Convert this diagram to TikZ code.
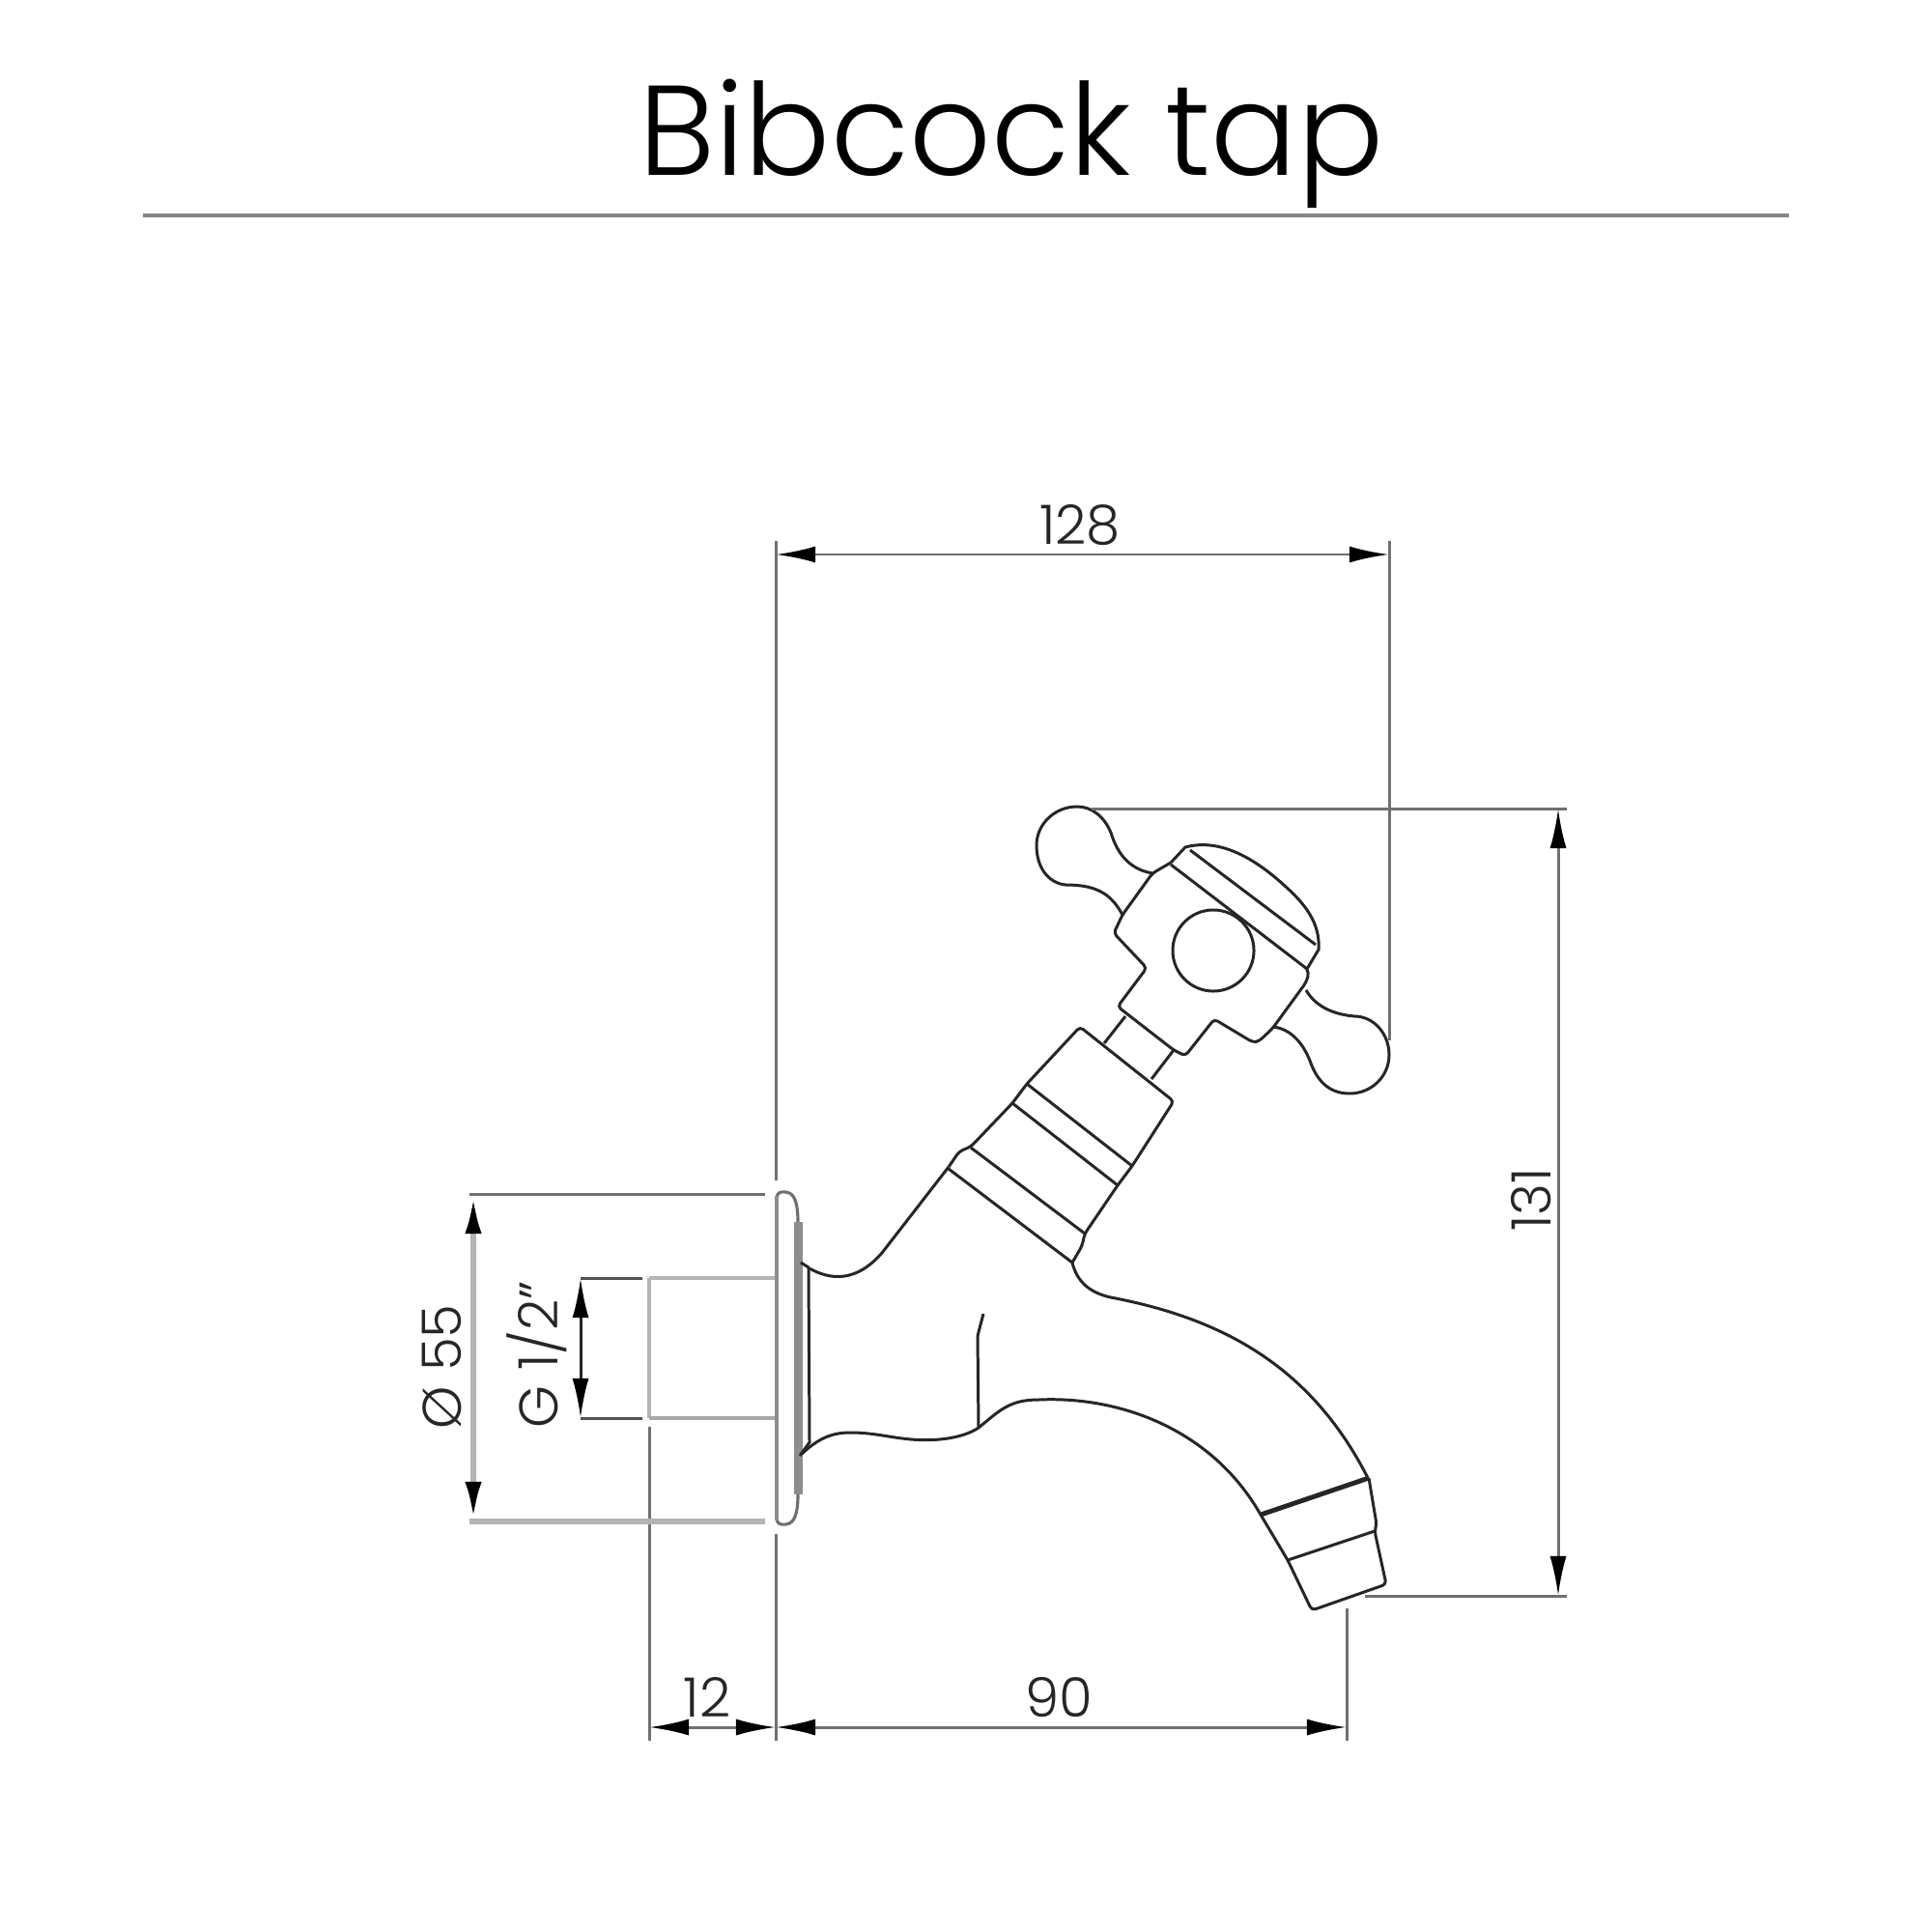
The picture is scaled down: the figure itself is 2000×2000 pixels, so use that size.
\documentclass[tikz,border=0pt]{standalone}
\usepackage{fontspec}
\setmainfont{Poppins Light}
\usetikzlibrary{arrows.meta}
\definecolor{inkline}{HTML}{262626}
\definecolor{extline}{HTML}{707070}
\definecolor{paleline}{HTML}{B4B4B4}
\tikzset{
	outline/.style={draw=inkline, line width=0.85pt, line join=round},
	extension/.style={draw=extline, line width=0.85pt},
	pale/.style={draw=paleline, line width=0.9pt},
	measure/.style={draw=extline, line width=0.85pt, {Latex[length=0.41cm, width=0.17cm, black]}-{Latex[length=0.41cm, width=0.17cm, black]}},
	dimtext/.style={font=\fontsize{16}{18}\selectfont, text=inkline, inner sep=0pt, anchor=base},
}
\begin{document}
\begin{tikzpicture}[x=0.01cm, y=-0.01cm]
		\useasboundingbox (0, 0) rectangle (2000, 2000);

		% Title
		\node[font=\fontsize{37.6}{44}\selectfont, inner sep=0pt, anchor=base] (title) at (1047, 182) {Bibcock tap};
		\coordinate (ruleL) at (148, 223);
		\coordinate (ruleR) at (1852, 223);
		\draw[draw=extline!85, line width=1.2pt] (ruleL) -- (ruleR);

		% Handle
		\draw[outline, rounded corners=0.4mm] (1212, 893) -- (1193, 904) -- (1162, 947) -- (1153, 966) -- (1187, 1002) -- (1157, 1042) -- (1215, 1087) -- (1227, 1093) -- (1257, 1055) -- (1297, 1079) -- (1303, 1078) -- (1317, 1065) -- (1352, 1017) -- (1355, 1007) -- (1352, 1002);
		\draw[outline] (1193, 904) .. controls (1170, 900) and (1157, 885) .. (1150, 862) .. controls (1143, 845) and (1130, 835) .. (1115, 835) .. controls (1092, 835) and (1073, 853) .. (1073, 875) .. controls (1073, 898) and (1085, 914) .. (1103, 916) .. controls (1135, 916) and (1150, 925) .. (1162, 947);
		\draw[outline] (1352, 1025) .. controls (1362, 1042) and (1380, 1050) .. (1402, 1052) .. controls (1422, 1052) and (1438, 1070) .. (1438, 1092) .. controls (1438, 1114) and (1420, 1132) .. (1397, 1132) .. controls (1375, 1132) and (1363, 1118) .. (1356, 1098) .. controls (1348, 1078) and (1335, 1065) .. (1318, 1063);
		\node[circle, outline, draw, minimum size=0.84cm, inner sep=0pt] (knob) at (1256, 984) {};

		% Cap of the handle
		\draw[outline] (1212, 893) -- (1227, 877) .. controls (1260, 868) and (1295, 885) .. (1330, 917) .. controls (1350, 935) and (1367, 955) .. (1365, 983) -- (1353, 1003);
		\foreach \xa/\ya/\xb/\yb in {1212/895/1353/1003, 1232/880/1362/978} {
			\draw[outline] (\xa, \ya) -- (\xb, \yb);
		}

		% Neck
		\foreach \xa/\ya/\xb/\yb in {1165/1052/1143/1080, 1215/1087/1192/1117} {
			\draw[outline] (\xa, \ya) -- (\xb, \yb);
		}

		% Collar
		\draw[outline, rounded corners=0.4mm] (982, 1208) -- (993, 1192) -- (1005, 1187) -- (1048, 1142) -- (1063, 1122) -- (1118, 1063) -- (1215, 1140) -- (1172, 1207) -- (1157, 1227) -- (1123, 1277) -- (1120, 1290) -- (1110, 1307);
		\foreach \xa/\ya/\xb/\yb in {1063/1122/1172/1207, 1048/1142/1157/1227, 1005/1188/1123/1277, 982/1210/1110/1307} {
			\draw[outline] (\xa, \ya) -- (\xb, \yb);
		}

		% Body
		\draw[outline] (982, 1208) -- (913, 1297) .. controls (893, 1320) and (868, 1330) .. (838, 1313);
		\draw[outline] (1110, 1307) .. controls (1115, 1328) and (1130, 1340) .. (1155, 1344) .. controls (1260, 1365) and (1355, 1410) .. (1416, 1530);
		\draw[outline] (1305, 1568) .. controls (1255, 1480) and (1160, 1445) .. (1075, 1449) .. controls (1045, 1449) and (1035, 1460) .. (1013, 1478) .. controls (995, 1490) and (965, 1492) .. (943, 1490) .. controls (920, 1488) and (905, 1483) .. (880, 1483) .. controls (860, 1483) and (845, 1490) .. (827, 1508);
		\draw[outline] (1013, 1478) -- (1012, 1383) -- (1018, 1360);

		% Spout end
		\draw[outline, line width=1.4pt] (1305, 1568) -- (1417, 1530);
		\draw[outline] (1333, 1615) -- (1423, 1585);
		\draw[outline, rounded corners=0.4mm] (1417, 1530) -- (1425, 1578) -- (1423, 1585) -- (1435, 1640) -- (1358, 1667) -- (1333, 1615) -- (1305, 1568);

		% Wall flange
		\draw[draw=extline!80, line width=1.4pt] (804, 1238) -- (804, 1574);
		\draw[draw=extline, line width=0.9pt] (804, 1238) .. controls (806, 1233) and (812, 1233) .. (817, 1235) .. controls (824, 1238) and (826, 1250) .. (826, 1265);
		\draw[draw=extline, line width=0.9pt] (826, 1547) .. controls (826, 1562) and (824, 1574) .. (817, 1577) .. controls (812, 1579) and (806, 1579) .. (804, 1574);
		\fill[extline!80] (822, 1265) rectangle (831, 1547);
		\draw[outline] (829, 1307) -- (837, 1312) -- (838, 1493) -- (828, 1507);

		% Thread, in pale lines
		\draw[pale] (672, 1323) -- (802, 1323);
		\draw[pale] (672, 1323) -- (672, 1468);
		\draw[draw=extline!60, line width=0.9pt] (672, 1468) -- (802, 1468);

		% Extension lines
		\coordinate (faceTop) at (803, 560);
		\coordinate (faceA) at (803, 1222);
		\coordinate (faceB) at (803, 1588);
		\coordinate (faceEnd) at (803, 1802);
		\coordinate (threadTop) at (672, 1477);
		\coordinate (threadEnd) at (672, 1802);
		\coordinate (handleTop) at (1438, 560);
		\coordinate (handleEnd) at (1438, 1077);
		\coordinate (handleL) at (1130, 837);
		\coordinate (handleR) at (1622, 837);
		\coordinate (spoutL) at (1413, 1652);
		\coordinate (spoutR) at (1622, 1652);
		\coordinate (spoutTop) at (1394, 1665);
		\coordinate (spoutEnd) at (1394, 1802);
		\coordinate (flangeA) at (486, 1236);
		\coordinate (flangeB) at (792, 1236);
		\coordinate (flangeC) at (486, 1575);
		\coordinate (flangeD) at (792, 1575);
		\coordinate (pipeA) at (601, 1323);
		\coordinate (pipeB) at (665, 1323);
		\coordinate (pipeC) at (601, 1468);
		\coordinate (pipeD) at (665, 1468);
		\draw[extension] (faceTop) -- (faceA);
		\draw[extension] (faceB) -- (faceEnd);
		\draw[extension] (threadTop) -- (threadEnd);
		\draw[extension] (handleTop) -- (handleEnd);
		\draw[extension] (handleL) -- (handleR);
		\draw[extension] (spoutL) -- (spoutR);
		\draw[extension] (spoutTop) -- (spoutEnd);
		\draw[extension] (flangeA) -- (flangeB);
		\draw[draw=paleline, line width=1.8pt] (flangeC) -- (flangeD);
		\draw[extension, draw=inkline!80] (pipeA) -- (pipeB);
		\draw[extension, draw=inkline!80] (pipeC) -- (pipeD);

		% Measures
		\draw[measure] (803, 574) -- (1438, 574);
		\draw[measure] (1613, 837) -- (1613, 1652);
		\draw[measure] (803, 1788) -- (1394, 1788);
		\draw[measure, draw=paleline, line width=1.8pt] (490, 1236) -- (490, 1575);
		\draw[measure, draw=inkline] (601, 1323) -- (601, 1468);
		\draw[measure] (672, 1788) -- (803, 1788);

		% Labels of the measures
		\node[dimtext] (label128) at (1118, 563) {128};
		\node[dimtext, rotate=90] (label131) at (1605, 1242) {131};
		\node[dimtext] (label90) at (1096, 1777) {90};
		\node[dimtext] (label12) at (732, 1777) {12};
		\node[dimtext, rotate=90] (label55) at (477, 1415) {Ø 55};
		\node[dimtext, rotate=90] (labelG) at (577, 1402) {G 1/2"};
	\end{tikzpicture}
\end{document}
